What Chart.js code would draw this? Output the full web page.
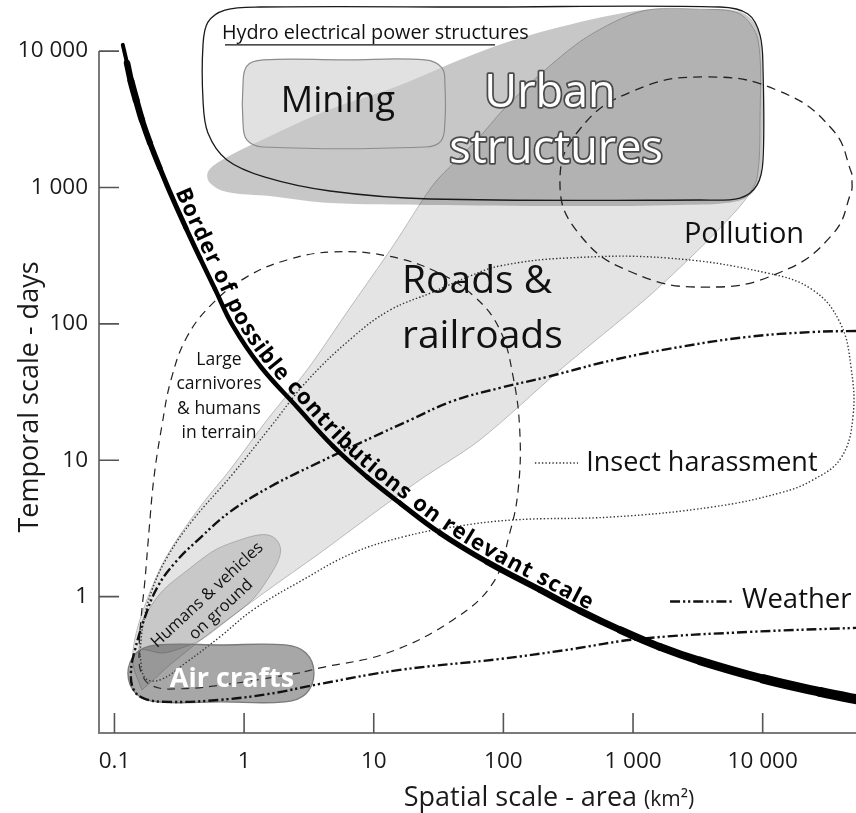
<!DOCTYPE html>
<html>
<head>
<meta charset="utf-8">
<script src="https://cdn.jsdelivr.net/npm/chart.js@4/dist/chart.umd.min.js"></script>
<style>
  html, body { margin: 0; padding: 0; background: #fff; }
  canvas { display: block; }
</style>
</head>
<body>
<canvas id="c" width="856" height="813"></canvas>
<script>
// ---- Axes -------------------------------------------------------------
const xTickValues = [0.1, 1, 10, 100, 1000, 10000];
const xTickLabels = ['0.1', '1', '10', '100', '1 000', '10 000'];
const yTickValues = [1, 10, 100, 1000, 10000];
const yTickLabels = ['1', '10', '100', '1 000', '10 000'];
const areaRange = [0.076, 52460];   // km²
const daysRange = [0.1, 23690];     // days

// ---- Border of possible contributions on relevant scale ----------------
const borderArea = [0.116, 0.125, 0.134, 0.147, 0.163, 0.188, 0.224, 0.278, 0.356, 0.457, 0.596, 0.82, 1.33, 2.56, 4.85, 8.87, 15.9, 32.4, 74.7, 192, 390, 793, 1610, 3280, 10100, 27700, 67000];
const borderDays = [11100, 8180, 6040, 4380, 3120, 2120, 1390, 851, 505, 304, 180, 96.6, 49.1, 24.6, 12.7, 7.55, 4.86, 2.93, 1.80, 1.12, 0.786, 0.570, 0.428, 0.338, 0.249, 0.200, 0.169];

// ---- Disturbance domains (outlines in area / days) ---------------------
const roadsArea = [0.163, 0.139, 0.141, 0.157, 0.188, 0.237, 0.32, 0.482, 0.778, 1.5, 3.06, 6.56, 14.1, 28.6, 42.3, 62.6, 99.3, 182, 442, 1190, 3280, 6680, 9200, 9540, 9040, 7300, 4690, 2750, 1280, 273, 65.9, 22.7, 9.35, 3.85, 1.45, 0.545, 0.268, 0.188, 0.163];
const roadsDays = [0.207, 0.316, 0.442, 0.675, 1.08, 1.77, 2.83, 4.86, 8.49, 19.7, 45.9, 131, 373, 1040, 1540, 2230, 3700, 6460, 12700, 19700, 20300, 18700, 12100, 3120, 1170, 809, 505, 304, 155, 45.9, 14.1, 7.17, 3.9, 2.09, 1.08, 0.542, 0.316, 0.233, 0.207];

const urbanArea = [27.2, 4.6, 1.58, 0.738, 0.545, 0.526, 0.675, 1.37, 4.44, 14.6, 72.1, 273, 1190, 3280, 6680, 9040, 9880, 9880, 8890, 6450, 2300, 273, 27.2];
const urbanDays = [744, 769, 866, 927, 1080, 1300, 1590, 2230, 3700, 5460, 10200, 15000, 20000, 20300, 19400, 14800, 7910, 1590, 991, 796, 744, 731, 744];

const hydroArea = [65.9, 4690, 7700, 9540, 10060, 10060, 9040, 6680, 3280, 27.2, 4.6, 1.45, 0.738, 0.526, 0.482, 0.482, 0.526, 0.712, 1.33, 65.9];
const hydroDays = [21050, 21050, 18700, 13100, 7260, 1590, 1040, 837, 809, 823, 942, 1190, 1590, 2510, 4380, 11100, 16300, 20000, 21050, 21050];
const hydroRuleArea = [0.712, 86.1];
const hydroRuleDays = [11090, 11090];

const miningArea = [5.89, 24.8, 33.6, 35.4, 35.4, 33.0, 24.8, 1.40, 1.05, 0.98, 0.98, 1.05, 1.40, 5.89];
const miningDays = [8610, 8610, 7520, 5640, 3020, 2190, 1980, 1980, 2230, 3020, 5640, 7770, 8610, 8610];

const pollutionArea = [48900, 48400, 34500, 13400, 3650, 999, 387, 273, 387, 999, 3650, 13400, 34500, 48400, 48900];
const pollutionDays = [1100, 940, 452, 237, 186, 237, 452, 1100, 2660, 5090, 6460, 5090, 2660, 1280, 1100];

const carnivoresArea = [2.7, 0.778, 0.32, 0.195, 0.16, 0.155, 0.16, 0.172, 0.185, 0.202, 0.233, 0.273, 0.362, 0.575, 1.05, 2.14, 4.85, 12.7, 30.7, 60.4, 94.1, 119, 134, 130, 112, 83.2, 40.8, 12.7, 3.85, 2.7];
const carnivoresDays = [0.276, 0.229, 0.211, 0.222, 0.281, 0.407, 0.675, 1.33, 3.08, 7.55, 18.2, 38.8, 80.1, 142, 221, 294, 337, 315, 240, 157, 90.2, 40.8, 15.9, 6.06, 2.93, 1.26, 0.675, 0.386, 0.3, 0.276];

const insectArea = [0.157, 0.166, 0.195, 0.259, 0.403, 0.806, 1.58, 3.06, 6.92, 13.3, 28.6, 55.2, 94.1, 309, 1830, 10800, 24400, 39500, 48000, 49700, 40200, 24400, 13600, 4140, 701, 119, 40.8, 16.8, 6.92, 2.85, 1.17, 0.651, 0.362, 0.224, 0.172, 0.157];
const insectDays = [0.374, 0.62, 1.12, 1.99, 3.65, 7.8, 17.3, 38.1, 80.1, 126, 171, 224, 266, 304, 304, 236, 177, 102, 48.3, 20.8, 10.4, 7.17, 5.76, 4.55, 3.84, 3.65, 3.24, 2.74, 2.09, 1.33, 0.799, 0.507, 0.332, 0.245, 0.254, 0.374];
const insectKeyArea = [175, 376];
const insectKeyDays = [9.55, 9.55];

const weatherArea = [52500, 24400, 7570, 2300, 701, 217, 94.1, 40.8, 19.0, 9.86, 3.85, 1.58, 0.778, 0.457, 0.293, 0.213, 0.169, 0.144, 0.134, 0.141, 0.172, 0.268, 0.651, 1.58, 3.85, 15.9, 94.1, 309, 1130, 7980, 52500];
const weatherDays = [88.7, 87.2, 80.1, 67.7, 54.3, 40.8, 33.9, 27.2, 19.7, 14.8, 9.72, 6.37, 4.18, 2.69, 1.77, 1.16, 0.675, 0.407, 0.281, 0.207, 0.178, 0.169, 0.175, 0.194, 0.229, 0.29, 0.349, 0.407, 0.49, 0.551, 0.59];
const weatherKeyArea = [1930, 5900];
const weatherKeyDays = [0.92, 0.92];

const humansArea = [0.154, 0.172, 0.371, 0.982, 1.80, 1.61, 0.747, 0.282, 0.154];
const humansDays = [0.412, 0.728, 1.58, 2.65, 2.57, 1.46, 0.673, 0.399, 0.412];

const aircraftArea = [0.663, 2.07, 3.0, 3.46, 3.0, 2.07, 0.663, 0.213, 0.147, 0.127, 0.147, 0.213, 0.663];
const aircraftDays = [0.169, 0.169, 0.194, 0.274, 0.386, 0.442, 0.442, 0.442, 0.386, 0.274, 0.194, 0.169, 0.169];

// ---- Text placed in the diagram (anchors in area / days) ---------------
const notes = [
  { lines: ['Hydro electrical power structures'], x: 0.675, y: 12300, size: 19.8, align: 'left' },
  { lines: ['Mining'], x: 5.3, y: 3580, size: 36 },
  { lines: ['Urban'], x: 229, y: 3890, size: 45, halo: true },
  { lines: ['structures'], x: 255, y: 1510, size: 45, halo: true },
  { lines: ['Pollution'], x: 7180, y: 390, size: 29 },
  { lines: ['Roads &', 'railroads'], x: 16.5, y: 168, size: 39, align: 'left', lineHeight: 55 },
  { lines: ['Large', 'carnivores', '& humans', 'in terrain'], x: 0.64, y: 50, size: 17.5, lineHeight: 24.5 },
  { lines: ['Insect harassment'], x: 435, y: 8.35, size: 27, align: 'left' },
  { lines: ['Weather'], x: 6930, y: 0.826, size: 27.5, align: 'left' },
  { lines: ['Air crafts'], x: 0.806, y: 0.218, size: 27, weight: 700, color: '#fff' },
  { lines: ['Humans & vehicles', 'on ground'], x: 0.58, y: 0.92, size: 16.5, lineHeight: 20, angle: -43, middle: true }
];
const captionText = 'Border of possible contributions on relevant scale';
const captionStartDays = 900;
const captionEndArea = 430;

// ---- Drawing --------------------------------------------------------------
const FONT = "'Open Sans', 'DejaVu Sans', sans-serif";
const borderWeights = [4, 6.5, 7, 6.5, 6, 5.5, 5, 5, 4.8, 4.6, 4.5, 4.5, 4.5, 4.5, 4.6, 4.8, 5, 5.5, 6, 6.5, 7, 7.5, 8, 8.5, 9.5, 10];
const pts = (xs, ys) => xs.map((x, i) => ({ x, y: ys[i] }));
const weatherDash = [10, 3, 2.2, 2.8, 2.2, 3];
const insectDash = [1.4, 2.1];

const datasets = [
  { label: 'Border', data: pts(borderArea, borderDays), borderColor: '#000', borderWidth: 5, fill: false,
    tension: 0.4, borderCapStyle: 'round', borderJoinStyle: 'round',
    segment: { borderWidth: c => borderWeights[c.p0DataIndex] }, order: 1 },
  { label: 'Weather', data: pts(weatherArea, weatherDays), borderColor: '#111', borderWidth: 2.4,
    borderDash: weatherDash, fill: false, tension: 0.4, order: 2 },
  { label: 'Weather key', data: pts(weatherKeyArea, weatherKeyDays), borderColor: '#111', borderWidth: 2.4,
    borderDash: weatherDash, fill: false, tension: 0, order: 2 },
  { label: 'Air crafts', data: pts(aircraftArea, aircraftDays), borderColor: '#7a7a7a', borderWidth: 1.3,
    backgroundColor: 'rgba(60,60,60,0.45)', fill: 'shape', tension: 0.35, order: 3 },
  { label: 'Pollution', data: pts(pollutionArea, pollutionDays), borderColor: '#222', borderWidth: 1.3,
    borderDash: [9, 6], fill: false, tension: 0.45, order: 4 },
  { label: 'Hydro electrical power structures', data: pts(hydroArea, hydroDays), borderColor: '#1a1a1a',
    borderWidth: 1.3, fill: false, tension: 0.35, order: 5 },
  { label: 'Hydro rule', data: pts(hydroRuleArea, hydroRuleDays), borderColor: '#111', borderWidth: 1.3,
    fill: false, tension: 0, order: 5 },
  { label: 'Mining', data: pts(miningArea, miningDays), borderColor: '#8c8c8c', borderWidth: 1.2,
    backgroundColor: 'rgba(200,200,200,0.55)', fill: 'shape', tension: 0.4, order: 6 },
  { label: 'Urban structures', data: pts(urbanArea, urbanDays), borderWidth: 0,
    backgroundColor: 'rgba(0,0,0,0.22)', fill: 'shape', tension: 0.35, order: 7 },
  { label: 'Insect harassment', data: pts(insectArea, insectDays), borderColor: '#333', borderWidth: 1.4,
    borderDash: insectDash, fill: false, tension: 0.4, order: 8 },
  { label: 'Insect key', data: pts(insectKeyArea, insectKeyDays), borderColor: '#333', borderWidth: 1.4,
    borderDash: insectDash, fill: false, tension: 0, order: 8 },
  { label: 'Humans & vehicles on ground', data: pts(humansArea, humansDays), borderColor: 'rgba(0,0,0,0.2)',
    borderWidth: 1, backgroundColor: 'rgba(0,0,0,0.12)', fill: 'shape', tension: 0.5, order: 9 },
  { label: 'Large carnivores & humans in terrain', data: pts(carnivoresArea, carnivoresDays), borderColor: '#222',
    borderWidth: 1.2, borderDash: [8, 6], fill: false, tension: 0.4, order: 10 },
  { label: 'Roads & railroads', data: pts(roadsArea, roadsDays), borderColor: '#b9b9b9', borderWidth: 1,
    backgroundColor: '#e4e4e4', fill: 'shape', tension: 0.3, order: 11 }
];

// axis lines, tick marks, tick labels and axis titles
const frame = {
  id: 'frame',
  beforeDatasetsDraw(chart) {
    const { ctx, scales: { x, y } } = chart;
    ctx.save();
    ctx.strokeStyle = '#7a7a7a';
    ctx.lineWidth = 2;
    const top = y.getPixelForValue(yTickValues[yTickValues.length - 1]);
    ctx.beginPath();
    ctx.moveTo(x.left, top);
    ctx.lineTo(x.left, y.bottom);
    ctx.lineTo(x.right, y.bottom);
    ctx.stroke();

    ctx.strokeStyle = '#555';
    ctx.lineWidth = 1.6;
    ctx.beginPath();
    yTickValues.forEach(v => {
      const py = y.getPixelForValue(v);
      ctx.moveTo(x.left, py); ctx.lineTo(x.left + 20, py);
    });
    xTickValues.forEach(v => {
      const px = x.getPixelForValue(v);
      ctx.moveTo(px, y.bottom); ctx.lineTo(px, y.bottom - 20);
    });
    ctx.stroke();

    ctx.fillStyle = '#1a1a1a';
    ctx.font = `22.5px ${FONT}`;
    ctx.textAlign = 'right';
    ctx.textBaseline = 'middle';
    yTickValues.forEach((v, i) => ctx.fillText(yTickLabels[i], x.left - 11, y.getPixelForValue(v)));
    ctx.textAlign = 'center';
    ctx.textBaseline = 'alphabetic';
    xTickValues.forEach((v, i) => ctx.fillText(xTickLabels[i], x.getPixelForValue(v), y.bottom + 35));

    // x title
    const t1 = 'Spatial scale - area ', t2 = '(km²)';
    ctx.font = `27px ${FONT}`;
    const w1 = ctx.measureText(t1).width;
    ctx.font = `21px ${FONT}`;
    const w2 = ctx.measureText(t2).width;
    const x0 = 549 - (w1 + w2) / 2;
    ctx.textAlign = 'left';
    ctx.font = `27px ${FONT}`;
    ctx.fillText(t1, x0, 806);
    ctx.font = `21px ${FONT}`;
    ctx.fillText(t2, x0 + w1, 806);

    // y title
    ctx.save();
    ctx.translate(38, 397);
    ctx.rotate(-Math.PI / 2);
    ctx.textAlign = 'center';
    ctx.font = `27px ${FONT}`;
    ctx.fillText('Temporal scale - days', 0, 0);
    ctx.restore();
    ctx.restore();
  }
};

function drawCurvedCaption(chart) {
  const { ctx, scales: { x, y } } = chart;
  const els = chart.getDatasetMeta(0).data;
  const path = [];
  for (let i = 0; i < els.length - 1; i++) {
    const a = els[i], b = els[i + 1];
    const c1x = a.cp2x ?? a.x, c1y = a.cp2y ?? a.y, c2x = b.cp1x ?? b.x, c2y = b.cp1y ?? b.y;
    for (let k = 0; k < 20; k++) {
      const t = k / 20, u = 1 - t;
      path.push({
        x: u * u * u * a.x + 3 * u * u * t * c1x + 3 * u * t * t * c2x + t * t * t * b.x,
        y: u * u * u * a.y + 3 * u * u * t * c1y + 3 * u * t * t * c2y + t * t * t * b.y
      });
    }
  }
  const last = els[els.length - 1];
  path.push({ x: last.x, y: last.y });
  const cum = [0];
  for (let i = 1; i < path.length; i++) {
    cum.push(cum[i - 1] + Math.hypot(path[i].x - path[i - 1].x, path[i].y - path[i - 1].y));
  }
  const yStart = y.getPixelForValue(captionStartDays);
  const xEnd = x.getPixelForValue(captionEndArea);
  const i0 = Math.max(0, path.findIndex(p => p.y >= yStart));
  let i1 = path.findIndex(p => p.x >= xEnd);
  if (i1 < 0) i1 = path.length - 1;
  const s0 = cum[i0], s1 = cum[i1];

  const at = s => {
    let j = cum.findIndex(c => c >= s);
    if (j < 0) j = cum.length - 1;
    if (j === 0) j = 1;
    const p = path[j - 1], q = path[j];
    const seg = (cum[j] - cum[j - 1]) || 1;
    const f = (s - cum[j - 1]) / seg;
    return { x: p.x + (q.x - p.x) * f, y: p.y + (q.y - p.y) * f };
  };

  ctx.save();
  ctx.font = `700 22px ${FONT}`;
  ctx.fillStyle = '#000';
  ctx.textAlign = 'center';
  ctx.textBaseline = 'alphabetic';
  const chars = [...captionText];
  const widths = chars.map(c => ctx.measureText(c).width);
  const total = widths.reduce((a, b) => a + b, 0);
  const extra = (s1 - s0 - total) / (chars.length - 1);
  const gap = 5;
  let s = s0;
  chars.forEach((c, k) => {
    const w = widths[k];
    const a1 = at(s), a2 = at(s + w), m = at(s + w / 2);
    let tx = a2.x - a1.x, ty = a2.y - a1.y;
    const L = Math.hypot(tx, ty) || 1;
    tx /= L; ty /= L;
    ctx.save();
    ctx.translate(m.x + ty * gap, m.y - tx * gap);
    ctx.rotate(Math.atan2(ty, tx));
    ctx.fillText(c, 0, 0);
    ctx.restore();
    s += w + extra;
  });
  ctx.restore();
}

const labels = {
  id: 'labels',
  afterDatasetsDraw(chart) {
    const { ctx, scales: { x, y } } = chart;
    notes.forEach(n => {
      const lh = n.lineHeight || n.size * 1.2;
      ctx.save();
      ctx.translate(x.getPixelForValue(n.x), y.getPixelForValue(n.y));
      if (n.angle) ctx.rotate(n.angle * Math.PI / 180);
      ctx.font = `${n.weight || 400} ${n.size}px ${FONT}`;
      ctx.textAlign = n.align || 'center';
      ctx.textBaseline = 'alphabetic';
      const shift = n.middle ? -((n.lines.length - 1) * lh) / 2 + n.size * 0.35 : 0;
      n.lines.forEach((line, k) => {
        const dy = shift + k * lh;
        if (n.halo) {
          ctx.lineJoin = 'round';
          ctx.lineWidth = 3.5;
          ctx.strokeStyle = '#4a4a4a';
          ctx.strokeText(line, 0, dy);
          ctx.fillStyle = '#fff';
        } else {
          ctx.fillStyle = n.color || '#111';
        }
        ctx.fillText(line, 0, dy);
      });
      ctx.restore();
    });
    drawCurvedCaption(chart);
  }
};

Chart.defaults.font.family = FONT;

new Chart(document.getElementById('c'), {
  type: 'line',
  data: { datasets },
  options: {
    responsive: false,
    animation: false,
    devicePixelRatio: 1,
    events: [],
    layout: { padding: { left: 99, right: 0, top: 0, bottom: 80 } },
    elements: { point: { radius: 0, hoverRadius: 0 } },
    plugins: { legend: { display: false }, tooltip: { enabled: false }, title: { display: false } },
    scales: {
      x: { type: 'logarithmic', display: false, bounds: 'data', min: areaRange[0], max: areaRange[1] },
      y: { type: 'logarithmic', display: false, bounds: 'data', min: daysRange[0], max: daysRange[1] }
    }
  },
  plugins: [frame, labels]
});
</script>
</body>
</html>
